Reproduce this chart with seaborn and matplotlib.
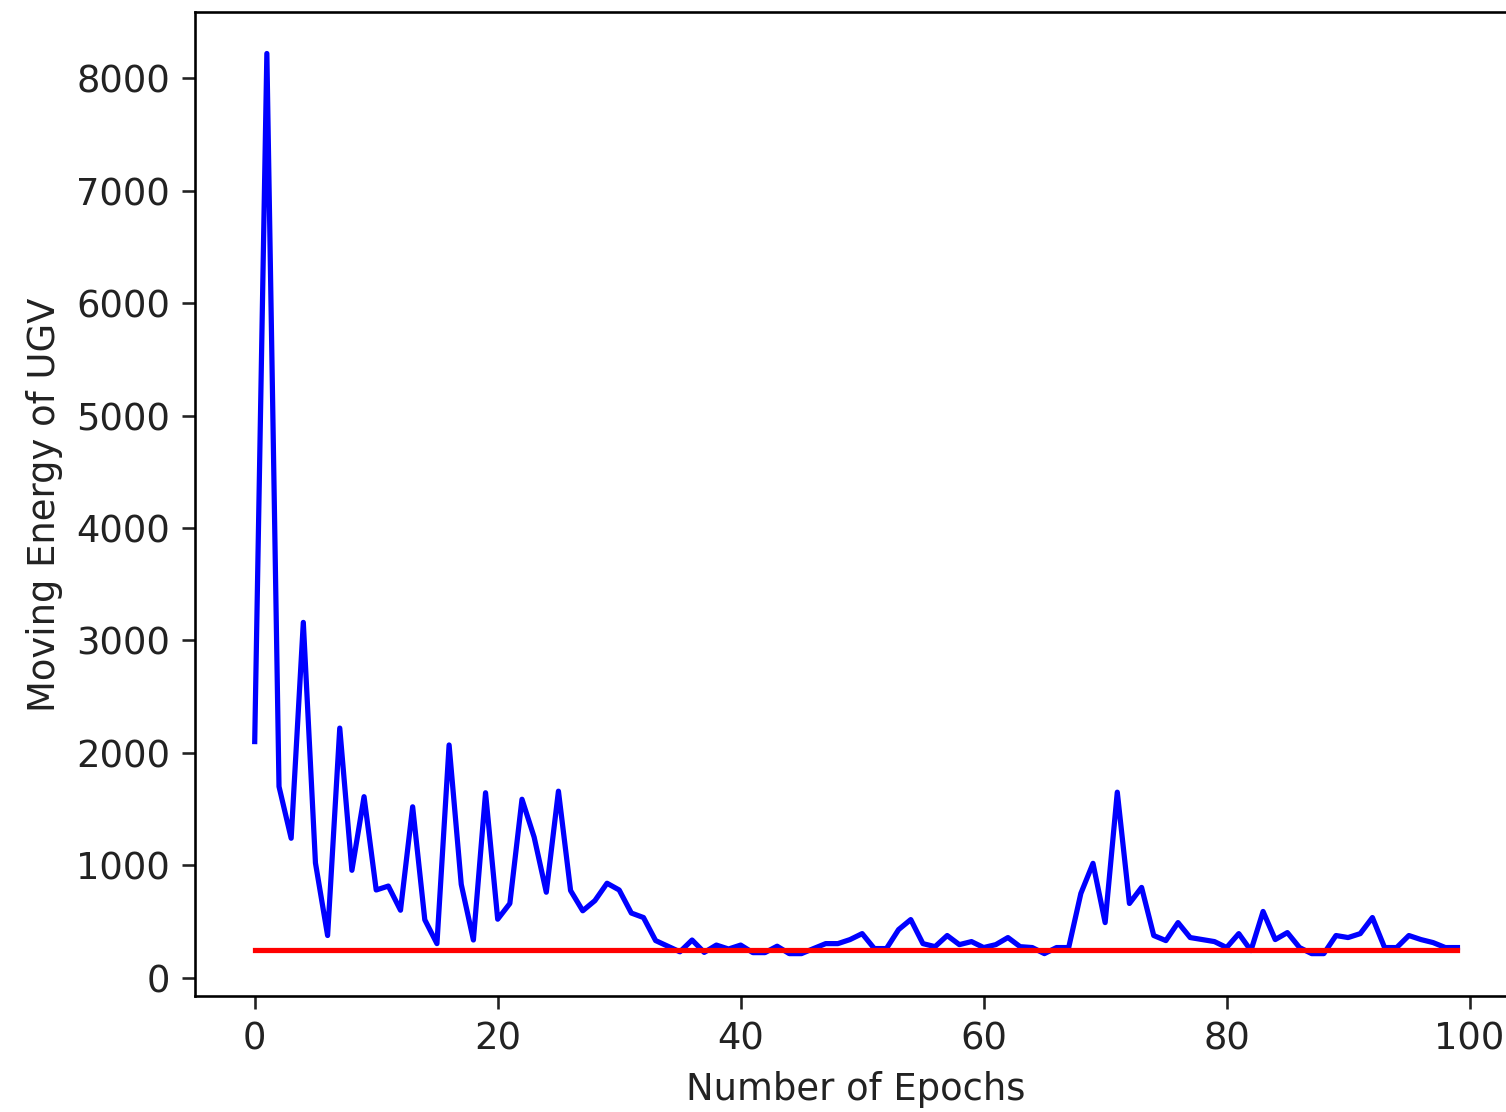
import numpy as np
import pandas as pd
import matplotlib
matplotlib.use('Agg')
import matplotlib.pyplot as plt
import seaborn as sns

# ─────────────────────────────────────────
# DATA
# ─────────────────────────────────────────
energy = [
    2100, 8220, 1700, 1240, 3160, 1020, 375, 2220, 955, 1610,
    780, 815, 600, 1520, 515, 303, 2070, 830, 335, 1645,
    520, 660, 1587, 1250, 760, 1659, 775, 595, 685, 840,
    780, 575, 535, 330, 280, 230, 335, 225, 290, 255,
    290, 223, 223, 280, 214, 214, 259, 303, 303, 339,
    392, 259, 259, 428, 517, 303, 276, 375, 294, 321,
    268, 294, 357, 276, 268, 214, 268, 268, 749, 1017,
    490, 1650, 660, 803, 375, 330, 490, 357, 339, 321,
    268, 392, 241, 589, 339, 401, 268, 214, 214, 375,
    357, 392, 535, 268, 268, 375, 339, 312, 268, 268,
]
baseline = 245

epochs = np.arange(len(energy))
df = pd.DataFrame({'epoch': epochs, 'energy': energy, 'baseline': baseline})

# ─────────────────────────────────────────
# PLOT
# ─────────────────────────────────────────
plt.rcParams['font.size'] = 11.3
plt.rcParams['text.color'] = '#222222'
plt.rcParams['axes.labelcolor'] = '#222222'
plt.rcParams['xtick.color'] = '#222222'
plt.rcParams['ytick.color'] = '#222222'
plt.rcParams['xtick.major.size'] = 4
plt.rcParams['ytick.major.size'] = 4

fig = plt.figure(figsize=(1506 / 235, 1112 / 235), dpi=235)
ax = fig.add_axes([0.1292, 0.1039, 0.8785, 0.8851])

sns.lineplot(data=df, x='epoch', y='energy', color='blue', linewidth=1.6, ax=ax)
sns.lineplot(data=df, x='epoch', y='baseline', color='red', linewidth=1.6, ax=ax)

ax.set_xlim(-4.95, 103.95)
ax.set_ylim(-167, 8587)
ax.set_xticks([0, 20, 40, 60, 80, 100])
ax.set_yticks(range(0, 8001, 1000))
ax.set_xlabel('Number of Epochs')
ax.set_ylabel('Moving Energy of UGV')

fig.savefig('out.png', dpi=235)
